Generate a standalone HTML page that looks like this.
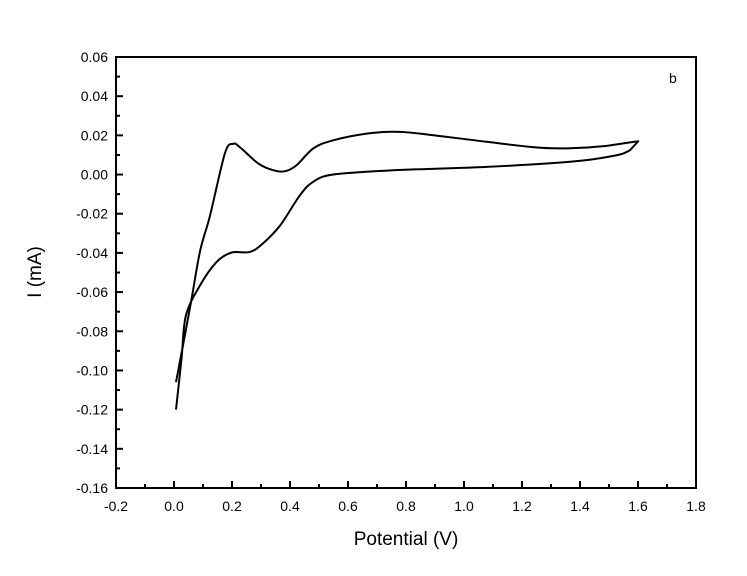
<!DOCTYPE html>
<html><head><meta charset="utf-8"><style>
body{margin:0;background:#fff;}
svg text{font-family:"Liberation Sans",Arial,sans-serif;fill:#000;}
</style></head><body>
<svg id="chart" width="747" height="571" xmlns="http://www.w3.org/2000/svg">
<g id="axes"></g>
<path id="cv" fill="none" stroke="#000" stroke-width="2" stroke-linejoin="round"/>
<rect x="116" y="57" width="580" height="431" fill="none" stroke="#000" stroke-width="2"/>
<text x="669" y="83" font-size="14">b</text>
<text x="406" y="545" font-size="19" text-anchor="middle">Potential (V)</text>
<text transform="translate(41,272) rotate(-90)" font-size="19" text-anchor="middle">I (mA)</text>
</svg>
<script>
const xTicks=[-0.2,0.0,0.2,0.4,0.6,0.8,1.0,1.2,1.4,1.6,1.8];
const yTicks=[0.06,0.04,0.02,0.00,-0.02,-0.04,-0.06,-0.08,-0.10,-0.12,-0.14,-0.16];
const potential=[0.007,0.030,0.060,0.090,0.124,0.176,0.204,0.227,0.291,0.342,0.383,0.423,0.480,0.549,0.664,0.756,0.848,1.078,1.251,1.366,1.492,1.601,1.572,1.515,1.366,1.078,0.848,0.756,0.549,0.480,0.434,0.366,0.308,0.262,0.199,0.147,0.090,0.041,0.026,0.007];
const current=[-0.106,-0.088,-0.064,-0.039,-0.021,0.011,0.0157,0.014,0.0056,0.0022,0.0017,0.0048,0.0133,0.0175,0.0209,0.0218,0.0209,0.0167,0.0138,0.0134,0.0146,0.017,0.0124,0.0095,0.0065,0.0039,0.0027,0.0022,0,-0.0037,-0.0106,-0.026,-0.035,-0.0395,-0.0398,-0.0446,-0.0565,-0.072,-0.094,-0.120];
const X=v=>116+(v+0.2)*290;
const Y=v=>57+(0.06-v)*431/0.22;
const ns="http://www.w3.org/2000/svg";
const g=document.getElementById('axes');
function line(x1,y1,x2,y2,name){const l=document.createElementNS(ns,'line');
l.setAttribute('x1',x1);l.setAttribute('y1',y1);l.setAttribute('x2',x2);l.setAttribute('y2',y2);
l.setAttribute('stroke','#000');l.setAttribute('stroke-width','2');


g.appendChild(l);}
function txt(x,y,s,anchor,name){const t=document.createElementNS(ns,'text');
t.setAttribute('x',x);t.setAttribute('y',y);t.setAttribute('font-size','14');t.setAttribute('text-anchor',anchor);t.textContent=s;


g.appendChild(t);}
xTicks.forEach((v,i)=>{const x=X(v);line(x,488,x,481,'x-tick');txt(x,511,v.toFixed(1),'middle','x-tick-label');
if(i<xTicks.length-1){const m=X(v+0.1);line(m,488,m,484,'x-minor-tick');}});
yTicks.forEach((v,i)=>{const y=Y(v);line(116,y,123,y,'y-tick');txt(108,y+5,v.toFixed(2),'end','y-tick-label');
if(i<yTicks.length-1){const m=Y(v-0.01);line(116,m,120,m,'y-minor-tick');}});
const pts=potential.map((p,i)=>[X(p),Y(current[i])]);
let d='M'+pts[0][0].toFixed(1)+','+pts[0][1].toFixed(1);
for(let i=0;i<pts.length-1;i++){
  const p0=pts[Math.max(0,i-1)],p1=pts[i],p2=pts[i+1],p3=pts[Math.min(pts.length-1,i+2)];
  const t=(i===20||i===21)?0:1/6;
  const c1=[p1[0]+(p2[0]-p0[0])*t,p1[1]+(p2[1]-p0[1])*t];
  const c2=[p2[0]-(p3[0]-p1[0])*t,p2[1]-(p3[1]-p1[1])*t];
  d+=' C'+c1.map(v=>v.toFixed(1)).join(',')+' '+c2.map(v=>v.toFixed(1)).join(',')+' '+p2.map(v=>v.toFixed(1)).join(',');
}
document.getElementById('cv').setAttribute('d',d);
</script>
</body></html>
